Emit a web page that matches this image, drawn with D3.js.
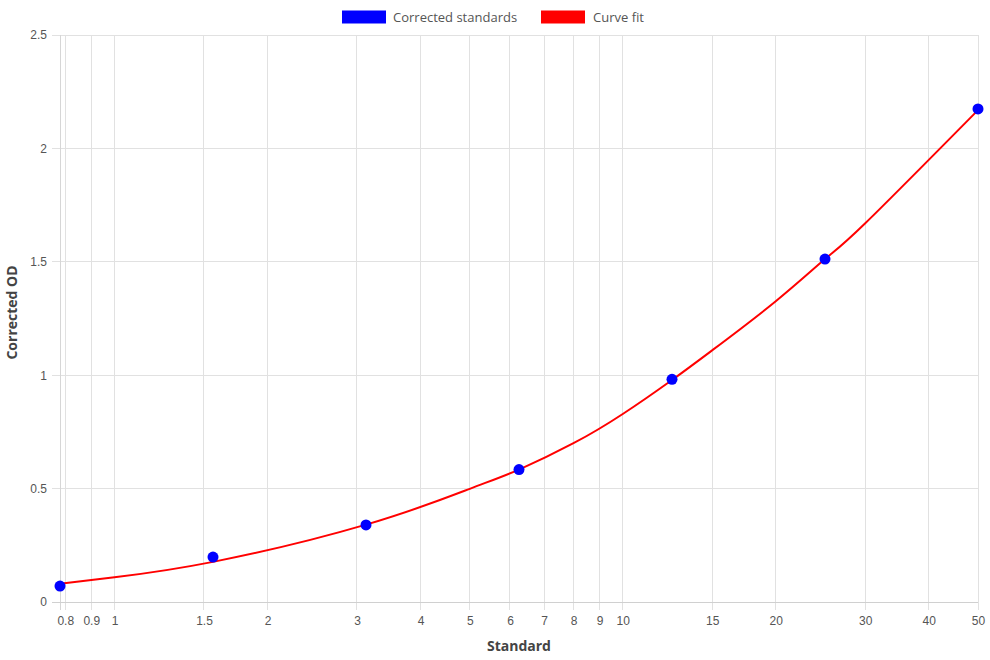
<!DOCTYPE html>
<html><head><meta charset="utf-8">
<script src="https://cdn.jsdelivr.net/npm/d3@7/dist/d3.min.js"></script>
<style>body{margin:0;background:#fff}svg{display:block}</style>
</head><body><div id="chart"></div>
<script>
const stdX = [0.78125, 1.5625, 3.125, 6.25, 12.5, 25, 50];
const stdOD = [0.07, 0.198, 0.34, 0.584, 0.982, 1.512, 2.174];
const fitX = [0.78125, 1, 1.5625, 3.125, 5, 6.25, 8, 10, 12.5, 15, 20, 25, 30, 50];
const fitOD = [0.080, 0.109, 0.177, 0.341, 0.499, 0.584, 0.700, 0.829, 0.979, 1.110, 1.326, 1.512, 1.670, 2.169];
const xTicks = [0.8, 0.9, 1, 1.5, 2, 3, 4, 5, 6, 7, 8, 9, 10, 15, 20, 30, 40, 50];
const yTicks = [0, 0.5, 1, 1.5, 2, 2.5];
const legendItems = ["Corrected standards", "Curve fit"];
const colors = ["#0000ff", "#ff0000"];

const W = 990, H = 660;
const L = 60, R = 978, T = 35, B = 602;
const svg = d3.select("#chart").append("svg").attr("width", W).attr("height", H);
const x = d3.scaleLog().domain([0.78125, 50]).range([L, R]);
const y = d3.scaleLinear().domain([0, 2.5]).range([B, T]);
const tickFont = "'Liberation Sans', Arial, sans-serif";
const titleFont = "'Open Sans', Inter, sans-serif";

// grid
const g = svg.append("g");
g.selectAll(".vg").data(xTicks).join("line")
  .attr("x1", d => x(d)).attr("x2", d => x(d)).attr("y1", T).attr("y2", B + 8)
  .attr("stroke", "#e1e1e1").attr("stroke-width", 1).attr("shape-rendering", "crispEdges");
g.selectAll(".hg").data(yTicks).join("line")
  .attr("x1", L - 8).attr("x2", R).attr("y1", d => y(d)).attr("y2", d => y(d))
  .attr("stroke", "#e1e1e1").attr("stroke-width", 1).attr("shape-rendering", "crispEdges");
// axis borders
g.append("line").attr("x1", L).attr("x2", L).attr("y1", T).attr("y2", B + 8)
  .attr("stroke", "#d6d6d6").attr("shape-rendering", "crispEdges");
g.append("line").attr("x1", L - 8).attr("x2", R).attr("y1", B).attr("y2", B)
  .attr("stroke", "#d0d0d0").attr("shape-rendering", "crispEdges");

// axes labels via d3 axes
const xAxis = d3.axisBottom(x).tickValues(xTicks).tickFormat(d3.format("~g")).tickSize(0).tickPadding(14);
const xa = svg.append("g").attr("transform", `translate(0,${B})`).call(xAxis);
xa.select(".domain").remove();
xa.selectAll("text").attr("font-family", tickFont).attr("font-size", 12).attr("fill", "#555");

const yAxis = d3.axisLeft(y).tickValues(yTicks).tickFormat(d3.format("~g")).tickSize(0).tickPadding(13);
const ya = svg.append("g").attr("transform", `translate(${L},0)`).call(yAxis);
ya.select(".domain").remove();
ya.selectAll("text").attr("font-family", tickFont).attr("font-size", 12).attr("fill", "#555");

// titles
svg.append("text").attr("x", (L + R) / 2).attr("y", 651).attr("text-anchor", "middle")
  .attr("font-family", titleFont).attr("font-weight", "bold").attr("font-size", 14).attr("fill", "#444")
  .text("Standard");
svg.append("text").attr("transform", `translate(17,${(T + B) / 2 - 6}) rotate(-90)`).attr("text-anchor", "middle")
  .attr("font-family", titleFont).attr("font-weight", "bold").attr("font-size", 14).attr("fill", "#444")
  .text("Corrected OD");

// curve
const line = d3.line().x((d, i) => x(fitX[i])).y(d => y(d)).curve(d3.curveNatural);
svg.append("path").datum(fitOD).attr("d", line).attr("fill", "none")
  .attr("stroke", colors[1]).attr("stroke-width", 2);

// points
svg.selectAll(".pt").data(stdOD).join("circle")
  .attr("cx", (d, i) => x(stdX[i])).attr("cy", d => y(d)).attr("r", 5.5)
  .attr("fill", colors[0]);

// legend
const lg = svg.append("g");
const boxX = [342, 541], textX = [393, 593];
legendItems.forEach((t, i) => {
  lg.append("rect").attr("x", boxX[i]).attr("y", 10.5).attr("width", 44).attr("height", 13)
    .attr("fill", colors[i]);
  lg.append("text").attr("x", textX[i]).attr("y", 21.5).attr("font-family", titleFont)
    .attr("font-size", 13).attr("fill", "#555").text(t);
});
</script></body></html>
